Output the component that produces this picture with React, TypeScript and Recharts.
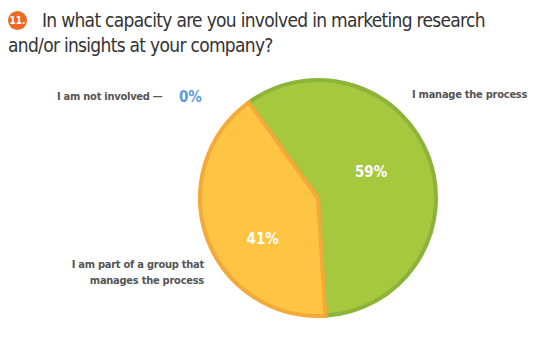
import { PieChart, Pie, Cell } from "recharts";

const categories = [
  "I am not involved",
  "I manage the process",
  "I am part of a group that manages the process",
];
const values = [0, 59, 41];
const fills = ["#5b9bd5", "#a5c83e", "#ffc444"];
const strokes = ["#5b9bd5", "#8db43a", "#f3aa38"];

const data = categories.map((name, i) => ({ name, value: values[i], fill: fills[i], stroke: strokes[i] }));
const pieData = data.filter((d) => d.value > 0);

// inner label placement: radius and angle nudge per slice (degrees, counter-clockwise)
const labelRadius = [59, 69];
const labelNudge = [6, 17];

const RAD = Math.PI / 180;
const FONT = '"DejaVu Sans Condensed", "DejaVu Sans", sans-serif';

const renderPct = (props: any) => {
  const { cx, cy, midAngle, value, index } = props;
  const r = labelRadius[index];
  const a = midAngle + labelNudge[index];
  const x = cx + r * Math.cos(-a * RAD);
  const y = cy + r * Math.sin(-a * RAD);
  return (
    <text x={x} y={y} fill="#ffffff" textAnchor="middle" dominantBaseline="central"
      fontFamily={FONT} fontWeight="bold" fontSize={15}>
      {`${value}%`}
    </text>
  );
};

const labelStyle: React.CSSProperties = {
  position: "absolute",
  fontFamily: FONT,
  fontWeight: "bold",
  fontSize: 11,
  letterSpacing: -0.25,
  color: "#555555",
  lineHeight: "16px",
  whiteSpace: "nowrap",
};

const titleStyle: React.CSSProperties = {
  position: "absolute",
  fontFamily: FONT,
  fontSize: 19,
  letterSpacing: -0.7,
  color: "#333333",
  lineHeight: "25px",
  whiteSpace: "nowrap",
};

export default function App() {
  return (
    <div style={{ position: "absolute", left: 0, top: 0, width: 541, height: 357, background: "#fff", overflow: "hidden" }}>
      <div style={{ position: "absolute", left: 8, top: 11, width: 19, height: 19, borderRadius: "50%", background: "#ec6a24",
        color: "#fff", fontFamily: FONT, fontWeight: "bold", fontSize: 10, lineHeight: "19px", textAlign: "center" }}>
        11.
      </div>
      <div style={{ ...titleStyle, left: 42, top: 8 }}>In what capacity are you involved in marketing research</div>
      <div style={{ ...titleStyle, left: 8, top: 33 }}>and/or insights at your company?</div>

      <div style={{ ...labelStyle, left: 57, top: 89 }}>{categories[0]} —</div>
      <div style={{ ...labelStyle, left: 179, top: 87, color: "#5b9bd5", fontSize: 15, lineHeight: "20px" }}>{`${values[0]}%`}</div>
      <div style={{ ...labelStyle, left: 412, top: 87 }}>{categories[1]}</div>
      <div style={{ ...labelStyle, right: 541 - 204, top: 257, textAlign: "right" }}>
        I am part of a group that
        <br />
        manages the process
      </div>

      <PieChart width={541} height={357} style={{ position: "absolute", left: 0, top: 0 }}>
        <Pie
          data={pieData}
          dataKey="value"
          nameKey="name"
          cx={313}
          cy={193}
          outerRadius={118}
          startAngle={126}
          endAngle={-234}
          strokeWidth={4}
          label={renderPct}
          labelLine={false}
          isAnimationActive={false}
        >
          {pieData.map((d, i) => (
            <Cell key={`cell-${i}`} fill={d.fill} stroke={d.stroke} />
          ))}
        </Pie>
      </PieChart>
    </div>
  );
}
